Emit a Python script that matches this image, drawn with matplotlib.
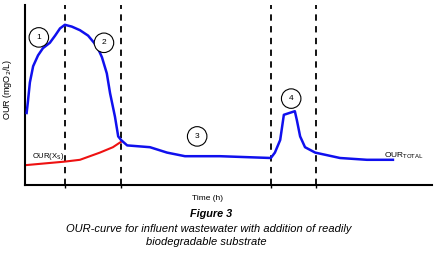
import matplotlib.pyplot as plt

plt.rcParams['font.family'] = ['Liberation Sans', 'DejaVu Sans']

# OUR total curve (blue), time in arbitrary hours, OUR in arbitrary units
time_total = [0.4, 0.7, 1.2, 2.0, 3.2, 4.4, 6.1, 7.4, 8.6, 9.8, 11.5, 13.5, 15.5,
              17.7, 18.9, 20.1, 20.9, 22.1, 22.9, 23.6, 25.1, 30.7, 34.9, 39.3,
              47.9, 60.4, 61.4, 62.7, 63.6, 66.3, 66.8, 67.6, 68.8, 71.3, 77.4,
              84.0, 90.4]
our_total = [40, 46, 57, 66, 72, 76, 79, 83, 87, 89, 88, 86, 83,
             77, 71, 62, 51, 38, 27, 25, 22, 21, 18, 16,
             16, 15, 18, 25, 39, 41, 36, 27, 21, 18, 15,
             14, 14]

# OUR of endogenous / slowly degradable part (red)
time_xs = [0.0, 9.8, 13.5, 18.4, 21.6, 23.6]
our_xs = [11, 13, 14, 18, 21, 24]

# phase boundaries
phase_bounds = [9.8, 23.6, 60.4, 71.5]

# phase labels
phase_labels = ['1', '2', '3', '4']
phase_t = [3.4, 19.4, 42.3, 65.4]
phase_y = [82, 79, 27, 48]

fig = plt.figure(figsize=(4.38, 2.54), dpi=100)
ax = fig.add_axes([25 / 438, 69 / 254, 407 / 438, 180 / 254])

for t in phase_bounds:
    ax.axvline(t, color='black', lw=1.3, ls=(0, (3.5, 3)), zorder=1)

ax.plot(time_total, our_total, color='#1010ee', lw=1.8, zorder=3)
ax.plot(time_xs, our_xs, color='#ee1111', lw=1.5, zorder=2)

for lab, t, y in zip(phase_labels, phase_t, phase_y):
    ax.text(t, y, lab, fontsize=6, ha='center', va='center', zorder=4,
            bbox=dict(boxstyle='circle,pad=0.75', fc='white', ec='black', lw=0.8))

ax.text(1.7, 16, 'OUR(X$_{\\rm S}$)', fontsize=5.5, ha='left', va='center')
ax.text(88.3, 16, 'OUR$_{\\rm TOTAL}$', fontsize=6, ha='left', va='center')

ax.set_xlim(0, 100)
ax.set_ylim(0, 100)
ax.spines['top'].set_visible(False)
ax.spines['right'].set_visible(False)
ax.spines['left'].set_linewidth(1.5)
ax.spines['bottom'].set_linewidth(1.5)
ax.set_xticks(phase_bounds)
ax.set_xticklabels([])
ax.tick_params(axis='x', direction='out', length=2.5, width=1)
ax.set_yticks([])

fig.text(8 / 438, 1 - 89 / 254, 'OUR (mgO$_2$/L)', fontsize=6.5, rotation=90,
         ha='center', va='center')
fig.text(208 / 438, 1 - 199 / 254, 'Time (h)', fontsize=6, ha='center', va='center')
fig.text(211 / 438, 1 - 214 / 254, 'Figure 3', fontsize=7.8, fontweight='bold',
         style='italic', ha='center', va='center')
fig.text(209 / 438, 1 - 229 / 254,
         'OUR-curve for influent wastewater with addition of readily',
         fontsize=8, style='italic', ha='center', va='center')
fig.text(206 / 438, 1 - 242 / 254, 'biodegradable substrate',
         fontsize=8, style='italic', ha='center', va='center')

fig.savefig('out.png', dpi=100)
